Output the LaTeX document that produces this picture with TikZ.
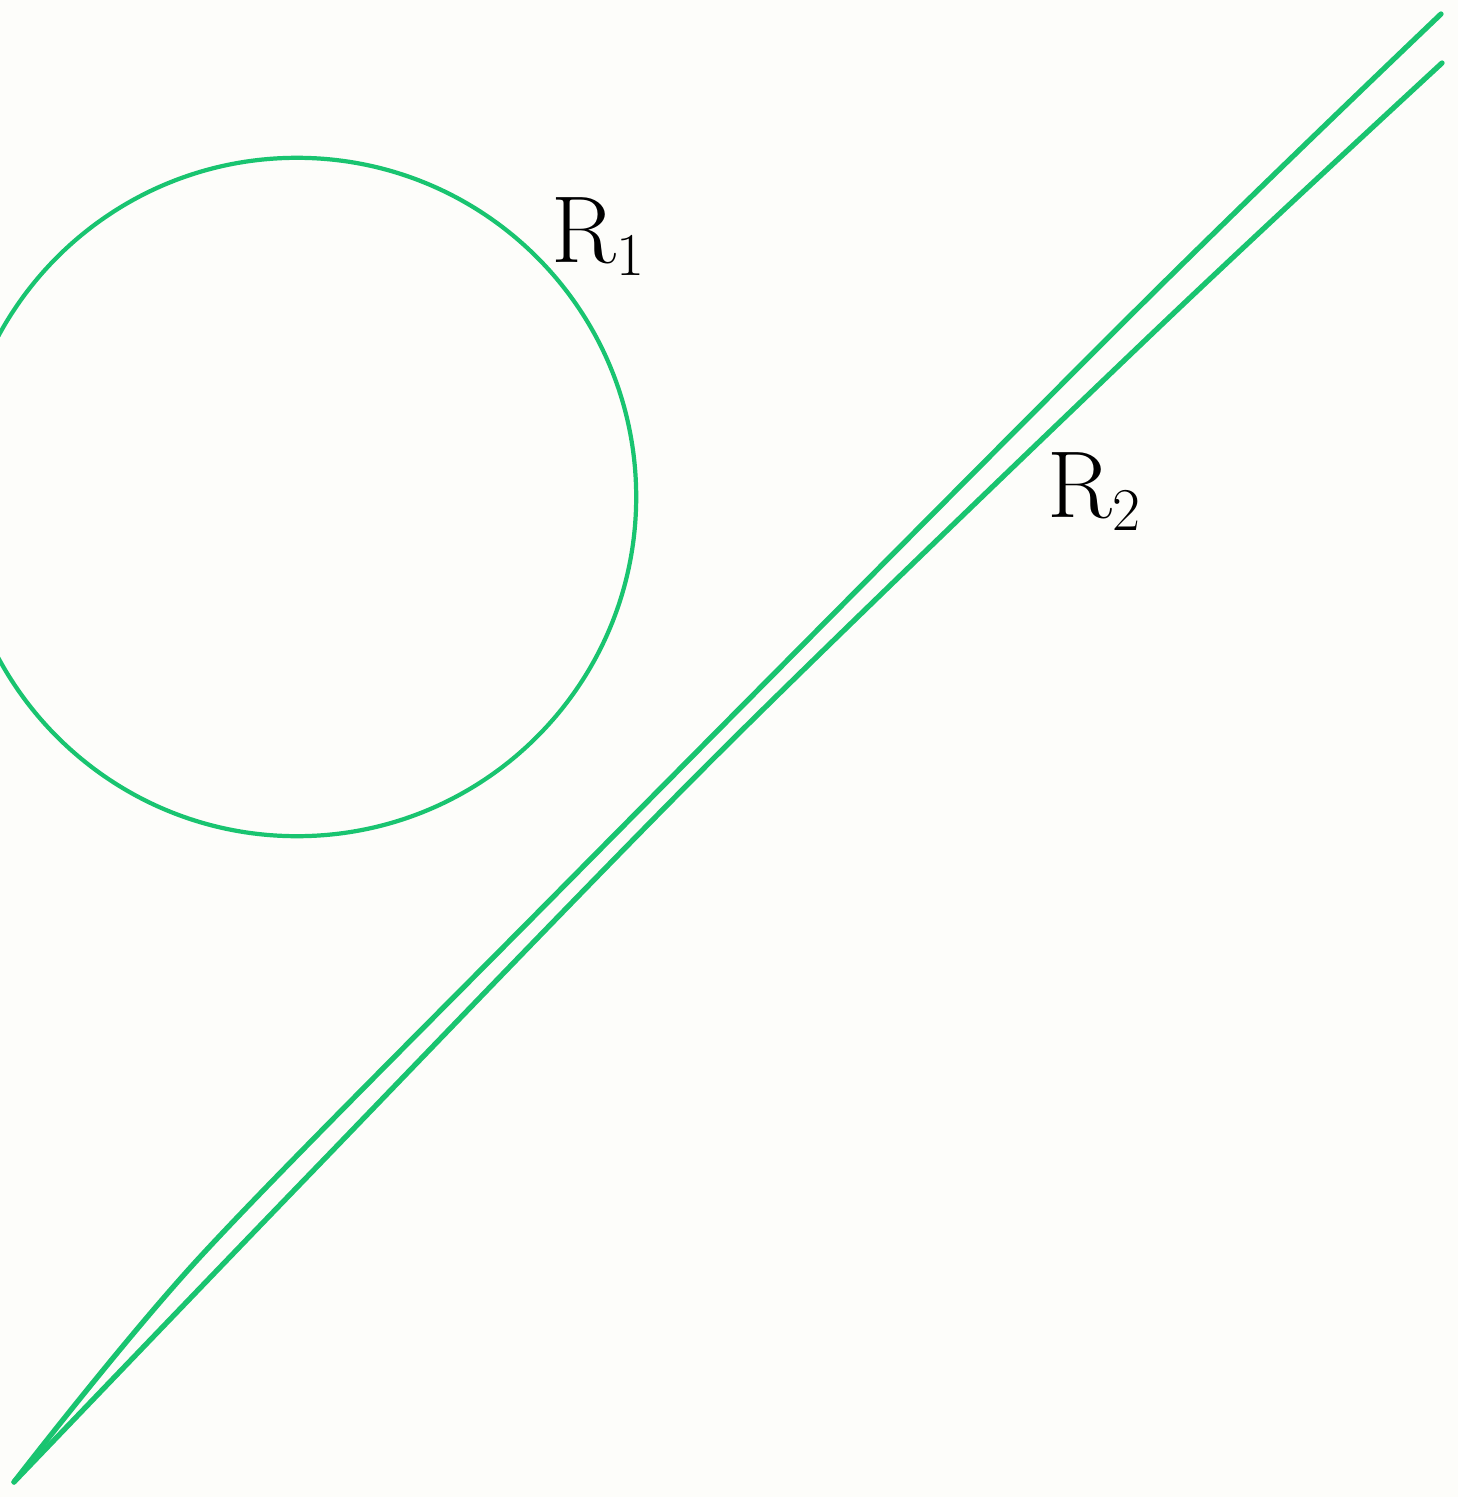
\documentclass[tikz,border=0pt]{standalone}
\usepackage{amsmath, amssymb}
\usepackage{tikz}
\usetikzlibrary{calc}

\definecolor{pengreen}{RGB}{25,196,112}
\definecolor{paper}{RGB}{253,253,250}

\begin{document}
\begin{tikzpicture}[x=0.01cm, y=-0.01cm,
    pen/.style={pengreen, line width=1.2pt, line cap=round, line join=round},
    lbl/.style={font=\fontsize{27}{29}\selectfont, inner sep=0pt}]
                \useasboundingbox (0,0) rectangle (1458,1497);
                \fill[paper] (0,0) rectangle (1458,1497);
                \clip (0,0) rectangle (1458,1497);
                \coordinate (O) at (297,497);
                \coordinate (P) at (14,1482);
                \draw[pen] (O) circle [radius=3.39cm];
                % the two long strokes
                \draw[pen, line width=1.5pt] plot[smooth, tension=0.5] coordinates
                    {(P) (200,1257) (557,893) (1143,303) (1441,14)};
                \draw[pen, line width=1.5pt] plot[smooth, tension=0.5] coordinates
                    {(P) (307,1177) (717,755) (1156,330) (1442,63)};
                \node[lbl] (R1) at (599,237) {R$_1$};
                \node[lbl] (R2) at (1095,492) {R$_2$};
            \end{tikzpicture}
\end{document}
